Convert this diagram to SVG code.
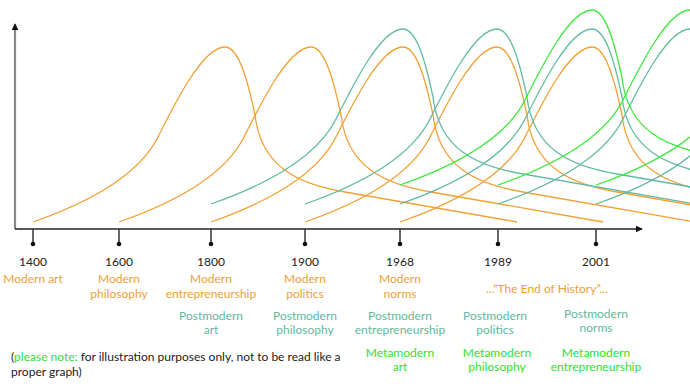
<svg xmlns="http://www.w3.org/2000/svg" xmlns:xlink="http://www.w3.org/1999/xlink" width="690" height="389" viewBox="0 0 690 389">
<style>
text{font-family:Lato,"Open Sans","Liberation Sans",sans-serif;font-size:12px;text-anchor:middle}
.yr{fill:#222}
.mo{fill:#f0a035}
.pm{fill:#5fb8a0}
.mm{fill:#30e030}
.cm{stroke:#f2a033;fill:none;stroke-width:1.3}
.cp{stroke:#62b9a3;fill:none;stroke-width:1.3}
.cg{stroke:#3be83b;fill:none;stroke-width:1.3}
.tick{stroke:#333;stroke-width:1.5}
</style>
<defs>
<path id="wave" d="M0,0 C40,-14 103,-41 125,-85 C143,-121 170,-175 192,-175 C205,-175 214,-145 222,-107 C228,-55 265,-38 312,-30 L484,0"/>
<marker id="ah" viewBox="0 0 10 10" refX="9" refY="5" markerWidth="7" markerHeight="7" markerUnits="userSpaceOnUse" orient="auto"><path d="M0,0 L10,5 L0,10 z" fill="#111"/></marker>
</defs>
<g id="curves">
<use xlink:href="#wave" class="cm" x="33" y="222"/>
<use xlink:href="#wave" class="cm" x="119" y="222"/>
<use xlink:href="#wave" class="cm" x="211" y="222"/>
<use xlink:href="#wave" class="cm" x="305" y="222"/>
<use xlink:href="#wave" class="cm" x="400" y="222"/>
<use xlink:href="#wave" class="cp" x="211" y="204"/>
<use xlink:href="#wave" class="cp" x="305" y="204"/>
<use xlink:href="#wave" class="cp" x="400" y="204"/>
<use xlink:href="#wave" class="cp" x="498" y="204"/>
<use xlink:href="#wave" class="cp" x="596" y="204"/>
<use xlink:href="#wave" class="cg" x="400" y="185"/>
<use xlink:href="#wave" class="cg" x="498" y="185"/>
<use xlink:href="#wave" class="cg" x="596" y="185"/>
</g>
<g id="axes">
<line x1="15" y1="229" x2="15" y2="24" stroke="#888" stroke-width="2.2" marker-end="url(#ah)"/>
<line x1="15" y1="229" x2="642" y2="229" stroke="#222" stroke-width="1.5" marker-end="url(#ah)"/>
</g>
<g id="ticks">
<line class="tick" x1="33" y1="229" x2="33" y2="244"/><circle cx="33" cy="244" r="2.3" fill="#111"/>
<line class="tick" x1="119" y1="229" x2="119" y2="244"/><circle cx="119" cy="244" r="2.3" fill="#111"/>
<line class="tick" x1="211" y1="229" x2="211" y2="244"/><circle cx="211" cy="244" r="2.3" fill="#111"/>
<line class="tick" x1="305" y1="229" x2="305" y2="244"/><circle cx="305" cy="244" r="2.3" fill="#111"/>
<line class="tick" x1="400" y1="229" x2="400" y2="244"/><circle cx="400" cy="244" r="2.3" fill="#111"/>
<line class="tick" x1="498" y1="229" x2="498" y2="244"/><circle cx="498" cy="244" r="2.3" fill="#111"/>
<line class="tick" x1="596" y1="229" x2="596" y2="244"/><circle cx="596" cy="244" r="2.3" fill="#111"/>
</g>
<g id="years">
<text class="yr" x="33" y="266">1400</text>
<text class="yr" x="119" y="266">1600</text>
<text class="yr" x="211" y="266">1800</text>
<text class="yr" x="305" y="266">1900</text>
<text class="yr" x="400" y="266">1968</text>
<text class="yr" x="498" y="266">1989</text>
<text class="yr" x="596" y="266">2001</text>
</g>
<g id="modern">
<text class="mo" x="33" y="283">Modern art</text>
<text class="mo" x="119" y="283">Modern</text><text class="mo" x="119" y="298">philosophy</text>
<text class="mo" x="211" y="283">Modern</text><text class="mo" x="211" y="298">entrepreneurship</text>
<text class="mo" x="305" y="283">Modern</text><text class="mo" x="305" y="298">politics</text>
<text class="mo" x="400" y="283">Modern</text><text class="mo" x="400" y="298">norms</text>
<text class="mo" x="547" y="293">...“The End of History”...</text>
</g>
<g id="postmodern">
<text class="pm" x="211" y="320">Postmodern</text><text class="pm" x="211" y="334">art</text>
<text class="pm" x="305" y="320">Postmodern</text><text class="pm" x="305" y="334">philosophy</text>
<text class="pm" x="400" y="320">Postmodern</text><text class="pm" x="400" y="334">entrepreneurship</text>
<text class="pm" x="495" y="320">Postmodern</text><text class="pm" x="495" y="334">politics</text>
<text class="pm" x="596" y="318">Postmodern</text><text class="pm" x="596" y="332">norms</text>
</g>
<g id="metamodern">
<text class="mm" x="400" y="357">Metamodern</text><text class="mm" x="400" y="371">art</text>
<text class="mm" x="497" y="357">Metamodern</text><text class="mm" x="497" y="371">philosophy</text>
<text class="mm" x="596" y="357">Metamodern</text><text class="mm" x="596" y="371">entrepreneurship</text>
</g>
<g id="note">
<text x="11" y="361" style="text-anchor:start;fill:#222">(<tspan class="mm">please note:</tspan> for illustration purposes only, not to be read like a</text>
<text x="11" y="376" style="text-anchor:start;fill:#222">proper graph)</text>
</g>
</svg>
